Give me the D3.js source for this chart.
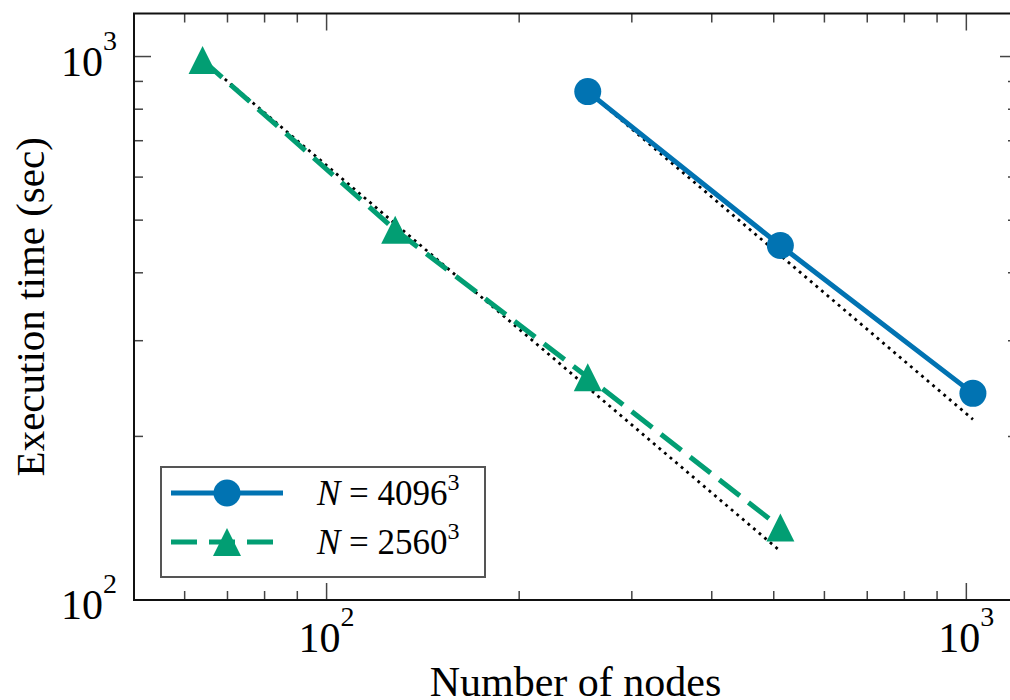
<!DOCTYPE html>
<html>
<head>
<meta charset="utf-8">
<script src="https://cdn.jsdelivr.net/npm/d3@7"></script>
<style>
  body { margin: 0; background: #fff; }
</style>
</head>
<body>
<svg id="chart" width="1010" height="700"></svg>
<script>
// values
var nodes4096 = [256, 512, 1024]
var time4096 = [862, 449, 240]
var nodes2560 = [64, 128, 256, 512]
var time2560 = [985, 480, 257, 136]
// ideal-scaling reference lines (end points)
var idealNodes4096 = [256, 1024]
var idealTime4096 = [862, 215]
var idealNodes2560 = [64, 512]
var idealTime2560 = [985, 123]

var xDomain = [50, 1200]
var yDomain = [100, 1200]
var xMajor = [100, 1000]
var xMinor = [60, 70, 80, 90, 200, 300, 400, 500, 600, 700, 800, 900]
var yMajor = [100, 1000]
var yMinor = [200, 300, 400, 500, 600, 700, 800, 900]
var tickExp = {100: "2", 1000: "3"}

var blue = "#0173b2", green = "#029e73"
var serif = "'Liberation Serif', 'DejaVu Serif', serif"

var svg = d3.select("#chart").attr("font-family", serif)
var m = {l: 134, t: 13.5, r: 1017, b: 600}

var x = d3.scaleLog().domain(xDomain).range([m.l, m.r])
var y = d3.scaleLog().domain(yDomain).range([m.b, m.t])

var line = d3.line().x(d => x(d[0])).y(d => y(d[1]))

// ideal dotted lines, beneath the data
svg.append("g")
  .selectAll("path")
  .data([d3.zip(idealNodes4096, idealTime4096), d3.zip(idealNodes2560, idealTime2560)])
  .join("path")
  .attr("d", line)
  .attr("fill", "none")
  .attr("stroke", "#000")
  .attr("stroke-width", 2.8)
  .attr("stroke-dasharray", "2.8,4.5")

var series = [
  {pts: d3.zip(nodes4096, time4096), color: blue, dash: null, marker: "circle"},
  {pts: d3.zip(nodes2560, time2560), color: green, dash: "26,11", marker: "tri"}
]

function drawMarker(g, type, color) {
  if (type == "circle") {
    g.append("circle").attr("r", 13.5).attr("fill", color)
  } else {
    g.append("path").attr("d", "M0,-14L-14,14L14,14Z").attr("fill", color)
  }
}

series.forEach(s => {
  svg.append("path")
    .attr("d", line(s.pts))
    .attr("fill", "none")
    .attr("stroke", s.color)
    .attr("stroke-width", 5)
    .attr("stroke-dasharray", s.dash)
  svg.append("g")
    .selectAll("g")
    .data(s.pts)
    .join("g")
    .attr("transform", d => "translate(" + x(d[0]) + "," + y(d[1]) + ")")
    .each(function () { drawMarker(d3.select(this), s.marker, s.color) })
})

// ticks, all pointing inwards
var tk = svg.append("g").attr("stroke", "#444").attr("stroke-width", 1.5)
function xt(vals, len) {
  vals.forEach(v => {
    tk.append("line").attr("x1", x(v)).attr("x2", x(v)).attr("y1", m.b).attr("y2", m.b - len)
    tk.append("line").attr("x1", x(v)).attr("x2", x(v)).attr("y1", m.t).attr("y2", m.t + len)
  })
}
function yt(vals, len) {
  vals.forEach(v => {
    tk.append("line").attr("y1", y(v)).attr("y2", y(v)).attr("x1", m.l).attr("x2", m.l + len)
    tk.append("line").attr("y1", y(v)).attr("y2", y(v)).attr("x1", m.r).attr("x2", m.r - len)
  })
}
xt(xMajor, 17); xt(xMinor, 9)
yt(yMajor, 17); yt(yMinor, 9)

// frame
svg.append("rect")
  .attr("x", m.l).attr("y", m.t)
  .attr("width", m.r - m.l).attr("height", m.b - m.t)
  .attr("fill", "none").attr("stroke", "#111").attr("stroke-width", 2)

// tick labels
function powLabel(g, v) {
  g.append("tspan").text("10")
  g.append("tspan").text(tickExp[v]).attr("font-size", 28).attr("dy", -26)
}
svg.append("g").selectAll("text")
  .data(xMajor).join("text")
  .attr("x", d => x(d)).attr("y", 652)
  .attr("text-anchor", "middle").attr("font-size", 42)
  .attr("font-family", serif)
  .each(function (d) { powLabel(d3.select(this), d) })
svg.append("g").selectAll("text")
  .data(yMajor).join("text")
  .attr("x", 117).attr("y", d => y(d) + 19)
  .attr("text-anchor", "end").attr("font-size", 42)
  .attr("font-family", serif)
  .each(function (d) { powLabel(d3.select(this), d) })

// axis titles
svg.append("text")
  .attr("x", (m.l + m.r) / 2).attr("y", 696)
  .attr("text-anchor", "middle").attr("font-size", 42)
  .attr("font-family", serif)
  .text("Number of nodes")
svg.append("text")
  .attr("transform", "translate(44," + (m.t + m.b) / 2 + ") rotate(-90)")
  .attr("text-anchor", "middle").attr("font-size", 41)
  .attr("font-family", serif)
  .text("Execution time (sec)")

// legend
var lg = svg.append("g")
lg.append("rect")
  .attr("x", 161).attr("y", 467).attr("width", 324).attr("height", 110)
  .attr("fill", "#fff").attr("stroke", "#555").attr("stroke-width", 2)
var labels = ["4096", "2560"]
series.forEach((s, i) => {
  var ly = 493 + i * 49
  lg.append("line")
    .attr("x1", 171).attr("x2", 283).attr("y1", ly).attr("y2", ly)
    .attr("stroke", s.color).attr("stroke-width", 5)
    .attr("stroke-dasharray", s.dash ? "26,12" : null)
  drawMarker(lg.append("g").attr("transform", "translate(227," + ly + ")"), s.marker, s.color)
  var t = lg.append("text").attr("x", 317).attr("y", ly + 12).attr("font-size", 35)
    .attr("font-family", serif)
  t.append("tspan").attr("font-style", "italic").text("N")
  t.append("tspan").text(" = " + labels[i])
  t.append("tspan").attr("font-size", 24).attr("dy", -15).text("3")
})
</script>
</body>
</html>
